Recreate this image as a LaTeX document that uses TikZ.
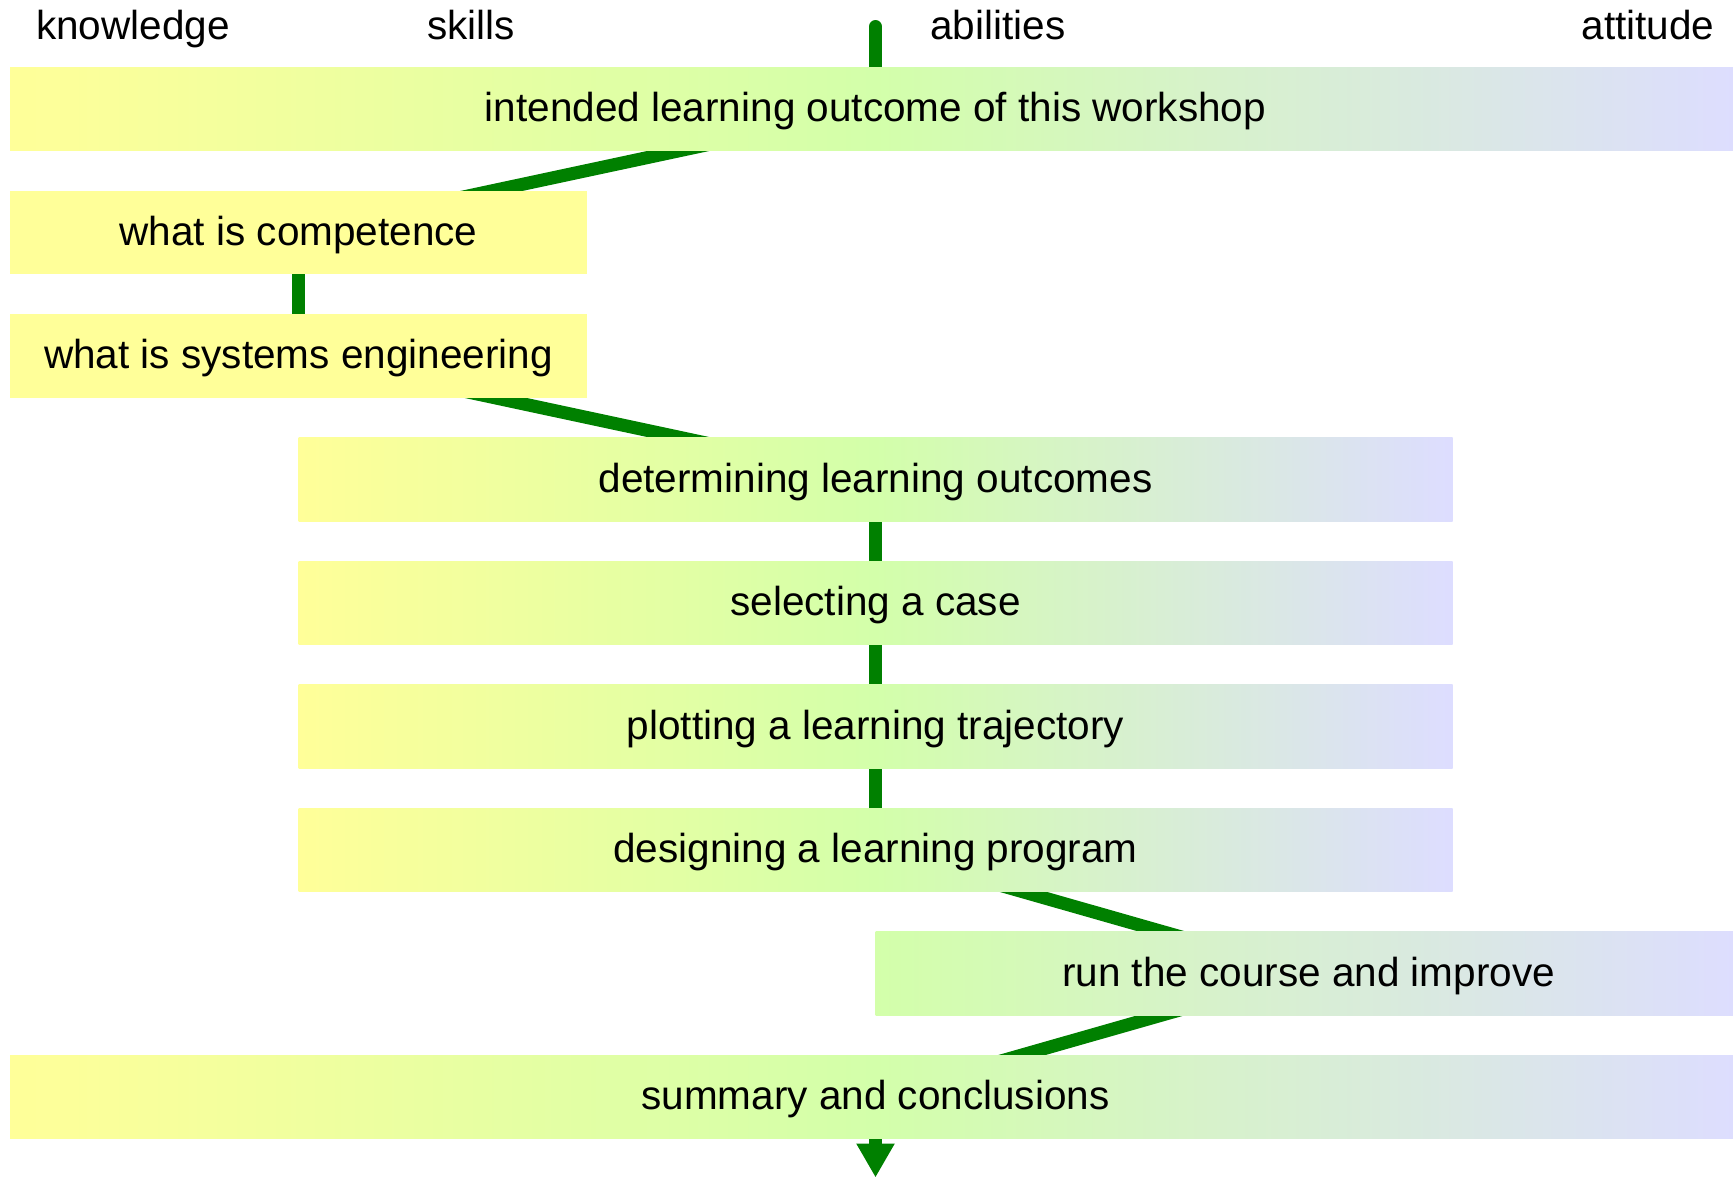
\documentclass[tikz,border=0pt]{standalone}
\usepackage{fontspec}
\setmainfont{Liberation Sans}
\usetikzlibrary{arrows.meta,backgrounds}
\definecolor{ky}{HTML}{FFFF99}
\definecolor{kg}{HTML}{D3FFAA}
\definecolor{kl}{HTML}{DDDDFF}
\definecolor{lg}{HTML}{008000}
\begin{document}
\begin{tikzpicture}[x=0.5pt,y=-0.5pt,
  txt/.style={font=\fontsize{20.25pt}{24pt}\selectfont},
  box/.style={txt, rectangle, inner sep=0pt, minimum height=41.75pt, text height=15.5pt, text depth=2.5pt},
  wone/.style={minimum width=288.5pt},
  wonehalf/.style={minimum width=433pt},
  wtwo/.style={minimum width=577pt},
  wthree/.style={minimum width=865.5pt},
  fullgrad/.style={left color=ky, right color=kl, middle color=kg},
  halfgrad/.style={left color=kg, right color=kl},
  plainbox/.style={fill=ky},
  conn/.style={draw=lg, line width=6.5pt},
  lbl/.style={txt, anchor=base, inner sep=0pt}
]
\useasboundingbox (0,0) rectangle (1733,1178);

% top labels
\node[lbl] (lk) at (133,39.5) {knowledge};
\node[lbl] (ls) at (471,39.5) {skills};
\node[lbl] (la) at (998,39.5) {abilities};
\node[lbl] (lt) at (1648,39.5) {attitude};

% boxes
\node[box, wthree, fullgrad] (b0) at (875.5,108.75) {intended learning outcome of this workshop};
\node[box, wone, plainbox] (b1) at (298.5,232.25) {what is competence};
\node[box, wone, plainbox] (b2) at (298.5,355.75) {what is systems engineering};
\node[box, wtwo, fullgrad] (b3) at (875.5,479.25) {determining learning outcomes};
\node[box, wtwo, fullgrad] (b4) at (875.5,602.75) {selecting a case};
\node[box, wtwo, fullgrad] (b5) at (875.5,726.25) {plotting a learning trajectory};
\node[box, wtwo, fullgrad] (b6) at (875.5,849.75) {designing a learning program};
\node[box, wonehalf, halfgrad] (b7) at (1308.5,973.25) {run the course and improve};
\node[box, wthree, fullgrad] (b8) at (875.5,1096.75) {summary and conclusions};

\coordinate (start) at (875.5,26.5);
\coordinate (finish) at (875.5,1177.5);

\begin{scope}[on background layer]
  \draw[conn, line cap=round] (start) -- (b0.center);
  \draw[conn] (b0.center) -- (b1.center);
  \draw[conn] (b1.center) -- (b2.center);
  \draw[conn] (b2.center) -- (b3.center);
  \draw[conn] (b3.center) -- (b4.center);
  \draw[conn] (b4.center) -- (b5.center);
  \draw[conn] (b5.center) -- (b6.center);
  \draw[conn] (b6.center) -- (b7.center);
  \draw[conn] (b7.center) -- (b8.center);
  \draw[conn, -{Triangle[length=17pt,width=18pt]}] (b8.center) -- (finish);
\end{scope}
\end{tikzpicture}
\end{document}
